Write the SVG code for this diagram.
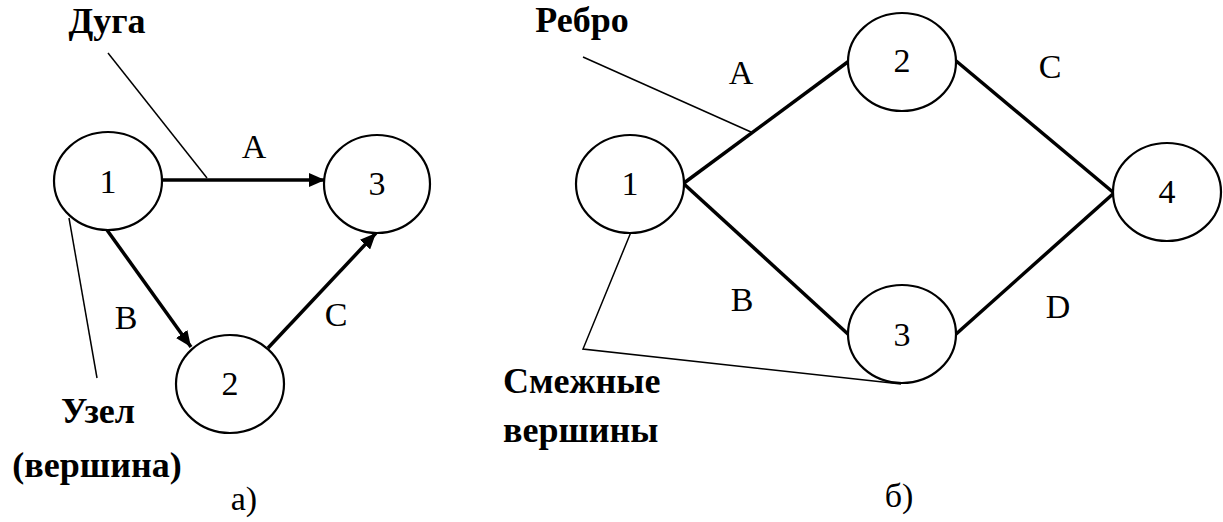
<svg xmlns="http://www.w3.org/2000/svg" width="1223" height="522" viewBox="0 0 1223 522" font-family="Liberation Serif">
<defs>
<marker id="ah" viewBox="0 0 16 14" refX="16" refY="7" markerWidth="16" markerHeight="14" markerUnits="userSpaceOnUse" orient="auto">
<path d="M0,0 L16,7 L0,14 Z" fill="#000"/>
</marker>
</defs>
<g id="connectors" stroke="#000" fill="none">
<g stroke-width="3.5">
<line x1="163" y1="180" x2="325" y2="180" marker-end="url(#ah)"/>
<line x1="107" y1="230" x2="191" y2="347" marker-end="url(#ah)"/>
<line x1="268" y1="348" x2="376" y2="233" marker-end="url(#ah)"/>
<line x1="684" y1="183" x2="849" y2="61"/>
<line x1="955" y1="60" x2="1114" y2="193"/>
<line x1="684" y1="184" x2="849" y2="335"/>
<line x1="955" y1="335" x2="1114" y2="193"/>
</g>
<g stroke-width="1.5">
<line x1="108" y1="53" x2="207" y2="178"/>
<line x1="69" y1="218" x2="97" y2="378"/>
<line x1="583" y1="57" x2="751" y2="132"/>
<polyline points="631,232 583,349 901,384"/>
</g>
</g>
<g id="nodes" font-family="Liberation Serif" font-size="34" text-anchor="middle" fill="#000">
<g id="nodeL1"><ellipse cx="108" cy="181" rx="54" ry="49" fill="#fff" stroke="#000" stroke-width="2.2"/><text x="108" y="193" font-family="Liberation Serif">1</text></g>
<g id="nodeL3"><ellipse cx="377" cy="184" rx="53" ry="49" fill="#fff" stroke="#000" stroke-width="2.2"/><text x="377" y="195" font-family="Liberation Serif">3</text></g>
<g id="nodeL2"><ellipse cx="230" cy="384" rx="54" ry="49" fill="#fff" stroke="#000" stroke-width="2.2"/><text x="230" y="395" font-family="Liberation Serif">2</text></g>
<g id="nodeR1"><ellipse cx="630" cy="184" rx="54" ry="49" fill="#fff" stroke="#000" stroke-width="2.2"/><text x="630" y="195" font-family="Liberation Serif">1</text></g>
<g id="nodeR2"><ellipse cx="902" cy="62" rx="54" ry="49" fill="#fff" stroke="#000" stroke-width="2.2"/><text x="902" y="72" font-family="Liberation Serif">2</text></g>
<g id="nodeR3"><ellipse cx="902" cy="334" rx="54" ry="49" fill="#fff" stroke="#000" stroke-width="2.2"/><text x="902" y="346" font-family="Liberation Serif">3</text></g>
<g id="nodeR4"><ellipse cx="1167" cy="192" rx="54" ry="49" fill="#fff" stroke="#000" stroke-width="2.2"/><text x="1167" y="203" font-family="Liberation Serif">4</text></g>
</g>
<g id="edge-labels" font-family="Liberation Serif" font-size="34" text-anchor="middle" fill="#000">
<text x="254" y="158" font-family="Liberation Serif">A</text>
<text x="126" y="329" font-family="Liberation Serif">B</text>
<text x="336" y="326" font-family="Liberation Serif">C</text>
<text x="244" y="510" font-family="Liberation Serif">а)</text>
<text x="741" y="84" font-family="Liberation Serif">A</text>
<text x="1050" y="78" font-family="Liberation Serif">C</text>
<text x="742" y="311" font-family="Liberation Serif">B</text>
<text x="1058" y="318" font-family="Liberation Serif">D</text>
<text x="899" y="507" font-family="Liberation Serif">б)</text>
</g>
<g id="callouts" font-family="Liberation Serif" font-size="36" font-weight="bold" fill="#000">
<text x="107" y="33" text-anchor="middle" font-family="Liberation Serif">Дуга</text>
<text x="98" y="423" text-anchor="middle" font-family="Liberation Serif">Узел</text>
<text x="97" y="477" text-anchor="middle" font-family="Liberation Serif">(вершина)</text>
<text x="582" y="32" text-anchor="middle" font-family="Liberation Serif">Ребро</text>
<text x="503" y="393" font-family="Liberation Serif">Смежные</text>
<text x="503" y="442" font-family="Liberation Serif">вершины</text>
</g>
</svg>
